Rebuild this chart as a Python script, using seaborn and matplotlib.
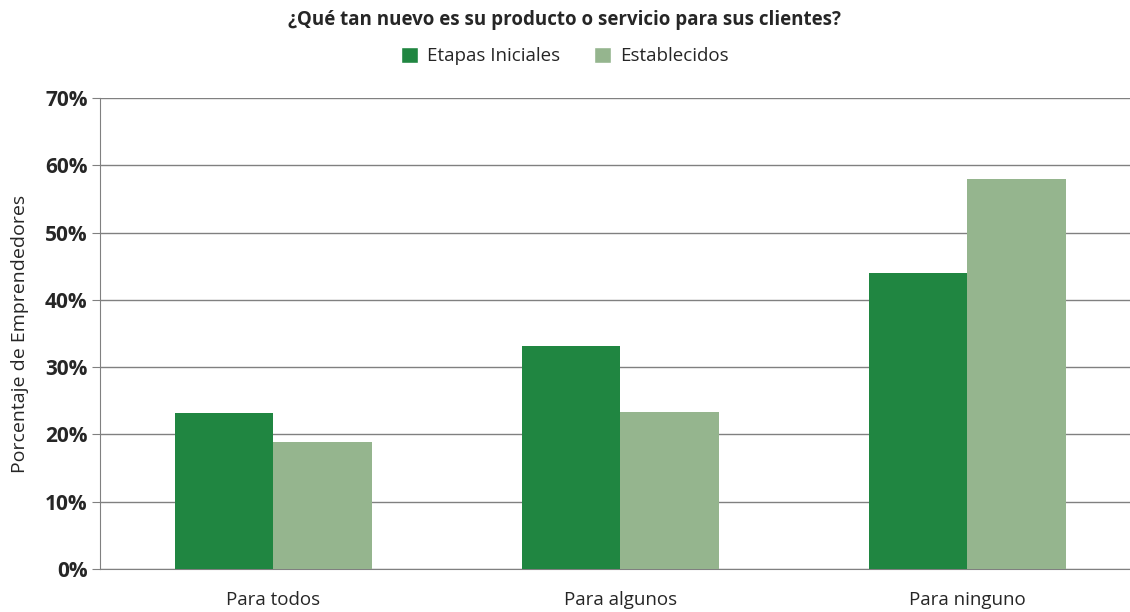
import matplotlib
matplotlib.use("Agg")
import matplotlib.pyplot as plt
import seaborn as sns
import pandas as pd
from matplotlib.ticker import FuncFormatter
from matplotlib.patches import Patch

categorias = ["Para todos", "Para algunos", "Para ninguno"]
series = ["Etapas Iniciales", "Establecidos"]
etapas_iniciales = [23.2, 33.2, 44.0]
establecidos = [18.9, 23.3, 57.9]
colores = ["#208641", "#95b58e"]

df = pd.DataFrame({
    "categoria": categorias * 2,
    "serie": [series[0]] * 3 + [series[1]] * 3,
    "valor": etapas_iniciales + establecidos,
})

sns.set_style("white")
plt.rcParams["font.family"] = ["Open Sans", "DejaVu Sans"]

fig = plt.figure(figsize=(11.3, 6.12), dpi=100)
ax = fig.add_axes([0.0885, 0.0703, 0.9212, 0.7696])

sns.barplot(data=df, x="categoria", y="valor", hue="serie", palette=colores,
            width=0.57, saturation=1, ax=ax, legend=False, linewidth=0, zorder=3)

ax.set_ylim(0, 70)
ax.set_yticks(range(0, 71, 10))
ax.yaxis.set_major_formatter(FuncFormatter(lambda v, p: f"{v:.0f}%"))
ax.grid(axis="y", color="#808080", linewidth=1, zorder=0)
ax.set_axisbelow(True)
for s in ["top", "right"]:
    ax.spines[s].set_visible(False)
ax.spines["left"].set_color("#808080")
ax.spines["bottom"].set_color("#808080")
ax.tick_params(axis="y", left=True, length=6, color="#808080", labelsize=15, pad=3)
ax.tick_params(axis="x", bottom=False, labelsize=13.5, pad=12)
for t in ax.get_yticklabels():
    t.set_fontweight("bold")
ax.set_xlabel("")
ax.set_ylabel("Porcentaje de Emprendedores", fontsize=14)
ax.yaxis.set_label_coords(-0.068, 0.5)

fig.text(0.5, 0.968, "¿Qué tan nuevo es su producto o servicio para sus clientes?",
         ha="center", va="center", fontsize=13.5, fontweight="bold")
handles = [Patch(facecolor=c, label=s) for c, s in zip(colores, series)]
fig.legend(handles=handles, loc="center", bbox_to_anchor=(0.5, 0.908), ncol=2,
           frameon=False, fontsize=13.5, handlelength=0.9, handleheight=0.9,
           columnspacing=1.8, handletextpad=0.5)

fig.savefig("out.png", dpi=100)
